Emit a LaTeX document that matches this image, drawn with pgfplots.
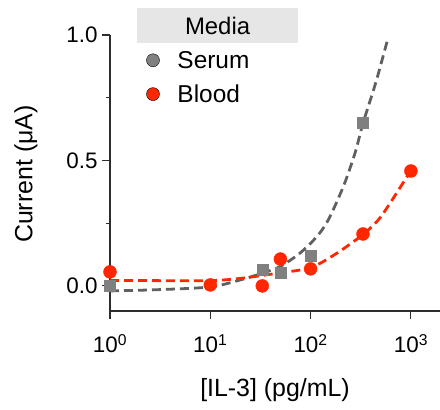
\documentclass[border=0pt]{standalone}
\usepackage{pgfplots}
\pgfplotsset{compat=1.18}
\usepackage{fontspec}
\setmainfont{Liberation Sans}
\definecolor{sergray}{RGB}{128,128,128}
\definecolor{serline}{RGB}{96,96,96}
\definecolor{bred}{RGB}{255,38,0}
\definecolor{axcol}{RGB}{45,45,45}
\definecolor{legbg}{RGB}{230,230,230}
\begin{document}
\begin{tikzpicture}
\useasboundingbox (-110bp,-99bp) rectangle (330bp,311bp);
\begin{axis}[
  scale only axis,
  width=330bp, height=276bp,
  xmode=log, log basis x=10,
  xmin=1, xmax=1950,
  ymin=-0.1, ymax=1.0,
  axis lines*=left,
  axis line style={axcol, line width=1.3pt},
  every tick/.style={axcol, line width=1.1pt},
  tick align=outside,
  major tick length=8bp, minor tick length=4bp,
  xtick={1,10,100,1000},
  xticklabels={10\textsuperscript{0},10\textsuperscript{1},10\textsuperscript{2},10\textsuperscript{3}},
  ytick={0,0.5,1},
  yticklabels={0.0,0.5,1.0},
  minor ytick={0.25,0.75},
  /pgf/number format/assume math mode=true,
  tick label style={font=\fontsize{22.5}{25}\selectfont},
  xticklabel style={yshift=-12bp},
  yticklabel style={xshift=-1bp},
  xlabel={[IL-3] (pg/mL)},
  ylabel={Current (μA)},
  label style={font=\fontsize{25}{28}\selectfont},
  xlabel style={at={(axis description cs:0.5,-0.285)}, anchor=center},
  ylabel style={at={(axis description cs:-0.255,0.496)}, anchor=center},
  clip=false,
  legend style={at={(axis description cs:0.11,0.95)}, anchor=north west, draw=none, fill=none,
     font=\fontsize{24.5}{27}\selectfont, row sep=11bp, inner sep=0pt,
     /tikz/every odd column/.append style={column sep=16bp}},
  legend cell align=left,
]
% fits
\addplot[serline, line width=2.8pt, dash pattern=on 9bp off 5bp, smooth, forget plot] coordinates {
 (1,-0.02) (3,-0.015) (10,-0.004) (20,0.024) (32.5,0.05) (49.5,0.077) (78,0.13) (115,0.196)
 (150,0.263) (212,0.396) (277,0.529) (333,0.648) (450,0.815) (591,0.988)};
\addplot[bred, line width=2.8pt, dash pattern=on 9bp off 5bp, smooth, forget plot] coordinates {
 (1,0.022) (3,0.021) (10,0.021) (19.8,0.03) (45.8,0.05) (100,0.073) (182,0.13) (333,0.205)
 (473,0.263) (618,0.329) (1000,0.46)};
% data
\addplot[only marks, mark=square*, mark size=5.5bp, sergray, mark options={draw=none, fill=sergray}, forget plot] coordinates {
 (1,0.0) (33,0.064) (50,0.052) (100,0.12) (333,0.65)};
\addplot[only marks, mark=*, mark size=6.5bp, bred, mark options={draw=none, fill=bred}, forget plot] coordinates {
 (1,0.056) (10,0.004) (33,0.0) (50,0.107) (100,0.068) (333,0.207) (1000,0.458)};
\addlegendimage{only marks, mark=*, mark size=6.5bp, mark options={draw=none, fill=sergray}}
\addlegendentry{Serum}
\addlegendimage{only marks, mark=*, mark size=6.5bp, mark options={draw=none, fill=bred}}
\addlegendentry{Blood}
\node[fill=legbg, minimum width=161bp, minimum height=35bp, inner sep=0pt,
  font=\fontsize{24}{26}\selectfont] at (axis description cs:0.326,1.034) {Media};
\end{axis}
\end{tikzpicture}
\end{document}
